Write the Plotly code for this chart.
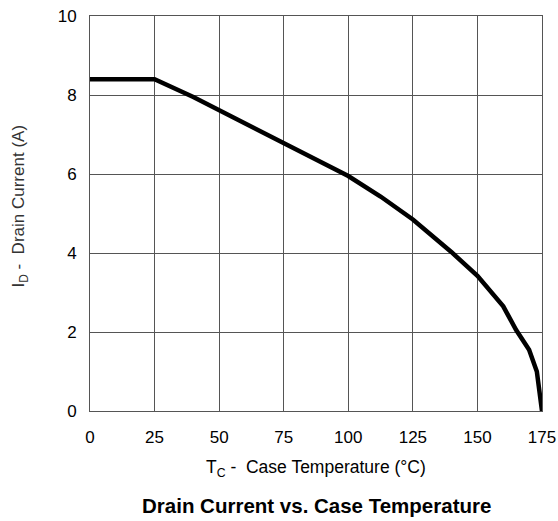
import plotly.graph_objects as go

temp_c = [0, 25, 40, 50, 62.5, 75, 87.5, 100, 112.5, 125, 140, 150, 160, 165, 170, 173, 175]
drain_a = [8.4, 8.4, 7.95, 7.62, 7.2, 6.78, 6.38, 5.95, 5.43, 4.85, 4.02, 3.42, 2.65, 2.05, 1.55, 1.0, 0]
x_ticks = [0, 25, 50, 75, 100, 125, 150, 175]
y_ticks = [0, 2, 4, 6, 8, 10]

fig = go.Figure()
fig.add_trace(go.Scatter(x=temp_c, y=drain_a, mode="lines",
                         line=dict(color="black", width=4.5), showlegend=False))

font = "Liberation Sans, Arial, sans-serif"
fig.update_layout(
    width=558, height=521,
    margin=dict(l=90, r=16, t=16, b=110),
    paper_bgcolor="white", plot_bgcolor="white",
    font=dict(family=font, color="black", size=15),
    xaxis=dict(range=[0, 175], tickvals=x_ticks, showgrid=True, gridcolor="#555",
               gridwidth=1, showline=True, linecolor="#555", mirror=True,
               zeroline=False, ticks="", ticklen=0, tickfont=dict(size=17),
               ticklabelstandoff=11, automargin=False),
    yaxis=dict(range=[0, 10], tickvals=y_ticks, showgrid=True, gridcolor="#555",
               gridwidth=1, showline=True, linecolor="#555", mirror=True,
               zeroline=False, ticks="", tickfont=dict(size=17),
               ticklabelstandoff=9, automargin=False),
    annotations=[
        dict(text="I<sub>D</sub> -  Drain Current (A)", xref="paper", yref="paper",
             x=-0.155, y=0.52, showarrow=False, textangle=-90,
             font=dict(size=17, color="#333"), xanchor="center", yanchor="middle"),
        dict(text="T<sub>C</sub> -  Case Temperature (°C)", xref="paper", yref="paper",
             x=0.5, y=-0.145, showarrow=False, font=dict(size=17.5), yanchor="middle"),
        dict(text="<b>Drain Current vs. Case Temperature</b>", xref="paper", yref="paper",
             x=0.5, y=-0.24, showarrow=False, font=dict(size=20.5), yanchor="middle"),
    ],
)
fig.write_html("out.html")
